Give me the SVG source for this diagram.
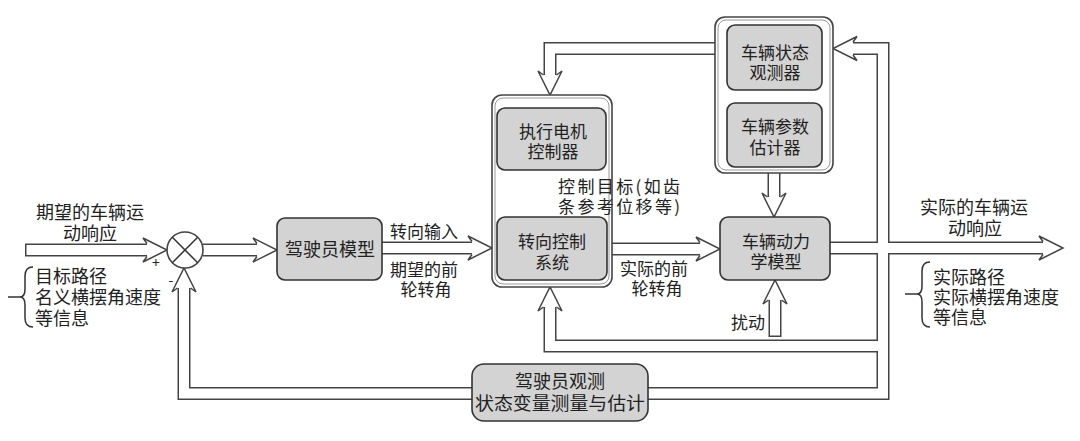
<svg xmlns="http://www.w3.org/2000/svg" xmlns:xlink="http://www.w3.org/1999/xlink" width="1080" height="441" viewBox="0 0 1080 441">
<style>
.o{fill:none;stroke:#444;stroke-width:13;stroke-linejoin:miter}
.i{fill:none;stroke:#fff;stroke-width:10;stroke-linejoin:miter}
.box{fill:#d3d3d3;stroke:#333;stroke-width:1.6}
.cont{fill:#fff;stroke:#444;stroke-width:1.6}
.cin{fill:none;stroke:#999;stroke-width:1}
.t{font-family:"Noto Sans CJK SC","Noto Sans",sans-serif;font-size:18px;fill:#222}
.s{font-size:17px}
.m{text-anchor:middle}
.ln{fill:none;stroke:#333;stroke-width:1.5}
</style>
<defs>
<path id="ah" d="M-20,-6.5 L-24,-12 L0,0 L-24,12 L-20,6.5" fill="#fff" stroke="#444" stroke-width="1.5"/>
</defs>
<rect width="1080" height="441" fill="#fff"/>
<g id="connectors">
<path class="o" d="M25,250 H148"/>
<path class="o" d="M203,250 H258"/>
<path class="o" d="M382,248 H473"/>
<path class="o" d="M612,249 H701"/>
<path class="o" d="M546,217 V190"/>
<path class="o" d="M715,48.5 H550 V75"/>
<path class="o" d="M774,173 V197"/>
<path class="o" d="M775,337 V300"/>
<path class="o" d="M830,248 H1043"/>
<path class="o" d="M883,248 V48.5 H853"/>
<path class="o" d="M883,248 V393.5 H184 V288"/>
<path class="o" d="M883,346 H550 V307"/>
<path class="i" d="M26.5,250 H148"/>
<path class="i" d="M203,250 H258"/>
<path class="i" d="M382,248 H473"/>
<path class="i" d="M612,249 H701"/>
<path class="i" d="M546,218 V190"/>
<path class="i" d="M716,48.5 H550 V75"/>
<path class="i" d="M774,172 V197"/>
<path class="i" d="M775,335.5 V300"/>
<path class="i" d="M829,248 H1043"/>
<path class="i" d="M883,248 V48.5 H853"/>
<path class="i" d="M883,248 V393.5 H184 V288"/>
<path class="i" d="M883,346 H550 V307"/>
<use href="#ah" transform="translate(167,250)"/>
<use href="#ah" transform="translate(277,250)"/>
<use href="#ah" transform="translate(492,248)"/>
<use href="#ah" transform="translate(720,249)"/>
<use href="#ah" transform="translate(546,170) rotate(-90)"/>
<use href="#ah" transform="translate(550,95) rotate(90)"/>
<use href="#ah" transform="translate(774,217) rotate(90)"/>
<use href="#ah" transform="translate(775,280) rotate(-90)"/>
<use href="#ah" transform="translate(1063,248)"/>
<use href="#ah" transform="translate(833,48.5) rotate(180)"/>
<use href="#ah" transform="translate(184,268) rotate(-90)"/>
<use href="#ah" transform="translate(550,287) rotate(-90)"/>
</g>
<g id="sum">
<circle cx="185" cy="250" r="18" fill="#fff" stroke="#444" stroke-width="1.6"/>
<path class="ln" d="M172.3,237.3 L197.7,262.7 M197.7,237.3 L172.3,262.7"/>
<text class="t m" x="156" y="268" style="font-size:14px">+</text>
<text class="t m" x="171" y="285" style="font-size:14px">-</text>
</g>
<g id="input-label">
<text class="t m" x="90" y="219">期望的车辆运</text>
<text class="t m" x="90" y="240">动响应</text>
</g>
<g id="target-info">
<path class="ln" d="M33,267 Q25,267 25,276 V289 Q25,297 20,297 Q25,297 25,305 V318 Q25,327 33,327 M8,297 H20"/>
<text class="t" x="35" y="283">目标路径</text>
<text class="t" x="35" y="304">名义横摆角速度</text>
<text class="t" x="35" y="325">等信息</text>
</g>
<g id="driver-model">
<rect class="box" x="277" y="218" width="105" height="62" rx="8"/>
<text class="t m" x="330" y="256">驾驶员模型</text>
</g>
<g id="driver-labels">
<text class="t s" x="390" y="238">转向输入</text>
<text class="t s" x="390" y="276">期望的前</text>
<text class="t s m" x="426" y="296">轮转角</text>
</g>
<g id="steering-container">
<rect class="cont" x="492" y="95" width="120" height="192" rx="10"/>
<rect class="cin" x="495" y="98" width="114" height="186" rx="8"/>
</g>
<g id="motor-controller">
<rect class="box" x="497" y="108" width="109" height="62" rx="8"/>
<text class="t s m" x="553" y="138">执行电机</text>
<text class="t s m" x="553" y="158">控制器</text>
</g>
<g id="steering-system">
<rect class="box" x="497" y="217" width="110" height="63" rx="8"/>
<text class="t s m" x="552" y="248">转向控制</text>
<text class="t s m" x="552" y="269">系统</text>
</g>
<g id="control-target-label">
<text class="t s" x="558" y="193" textLength="122" lengthAdjust="spacing">控制目标(如齿</text>
<text class="t s" x="558" y="213" textLength="122" lengthAdjust="spacing">条参考位移等)</text>
</g>
<g id="actual-wheel-label">
<text class="t s m" x="654" y="275">实际的前</text>
<text class="t s m" x="657" y="295">轮转角</text>
</g>
<g id="observer-container">
<rect class="cont" x="715" y="17" width="118" height="156" rx="10"/>
<rect class="cin" x="718" y="20" width="112" height="150" rx="8"/>
</g>
<g id="state-observer">
<rect class="box" x="727" y="25" width="95" height="65" rx="8"/>
<text class="t s m" x="775" y="59">车辆状态</text>
<text class="t s m" x="775" y="79">观测器</text>
</g>
<g id="param-estimator">
<rect class="box" x="727" y="103" width="95" height="64" rx="8"/>
<text class="t s m" x="775" y="133">车辆参数</text>
<text class="t s m" x="775" y="154">估计器</text>
</g>
<g id="vehicle-dynamics">
<rect class="box" x="720" y="217" width="110" height="63" rx="8"/>
<text class="t s m" x="776" y="248">车辆动力</text>
<text class="t s m" x="776" y="268">学模型</text>
</g>
<g id="disturbance-label">
<text class="t s m" x="748" y="329">扰动</text>
</g>
<g id="output-label">
<text class="t m" x="974" y="214">实际的车辆运</text>
<text class="t m" x="975" y="235">动响应</text>
</g>
<g id="actual-info">
<path class="ln" d="M930,262 Q922,262 922,271 V286 Q922,294 917,294 Q922,294 922,302 V318 Q922,327 930,327 M905,294 H917"/>
<text class="t" x="933" y="284">实际路径</text>
<text class="t" x="933" y="304">实际横摆角速度</text>
<text class="t" x="933" y="324">等信息</text>
</g>
<g id="driver-observation">
<rect class="box" x="472" y="364" width="176" height="57" rx="12"/>
<text class="t m" x="560" y="388">驾驶员观测</text>
<text class="t m" x="560" y="410" textLength="170" lengthAdjust="spacingAndGlyphs">状态变量测量与估计</text>
</g>
</svg>
